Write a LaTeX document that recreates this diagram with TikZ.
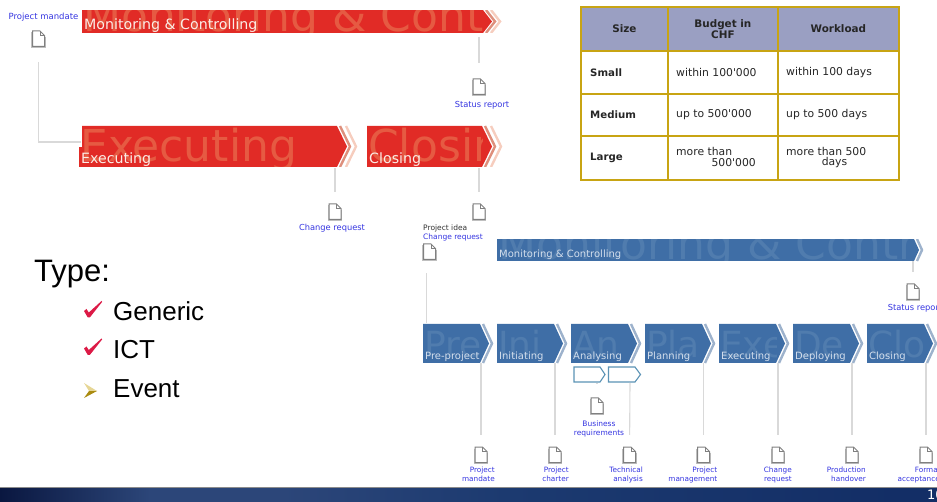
\documentclass[tikz,border=0pt]{standalone}
\usepackage{xcolor}
\usepackage{fontspec}
\usepackage{tikz}
\newfontfamily\verd{DejaVu Sans}
\newfontfamily\arialf{Liberation Sans}
\newcommand{\fsz}[1]{\fontsize{#1}{#1}\selectfont}
\definecolor{redbar}{HTML}{E12B26}
\definecolor{redghost}{HTML}{E65A42}
\definecolor{redchevA}{HTML}{DE8F7C}
\definecolor{redchevB}{HTML}{F6CDBE}
\definecolor{redlabel}{HTML}{FBEDE6}
\definecolor{bluebar}{HTML}{3F6EA6}
\definecolor{blueghost}{HTML}{507CAE}
\definecolor{bluechevA}{HTML}{9DB2CC}
\definecolor{bluechevB}{HTML}{FFFFFF}
\definecolor{bluelabel}{HTML}{D3DEEC}
\definecolor{gold}{HTML}{C8A413}
\definecolor{headfill}{HTML}{9A9FC2}
\definecolor{linkblue}{HTML}{3434E0}
\definecolor{crimson}{HTML}{DC1A46}
\definecolor{arrowteal}{HTML}{5B93B5}
\definecolor{footA}{HTML}{0A1740}
\definecolor{footB}{HTML}{2C4679}
\definecolor{footC}{HTML}{1C3A70}
\definecolor{footD}{HTML}{132E66}
\pgfdeclarehorizontalshading{footshade}{100bp}{
    color(0bp)=(footA); color(25bp)=(footA);
    color(33bp)=(footB); color(40bp)=(footB);
    color(52bp)=(footC); color(73bp)=(footD); color(100bp)=(footD)
}
\tikzset{
    redghosttext/.style={font=\verd\fsz{44}},
    blueghosttext/.style={font=\verd\fsz{36}},
    redlabeltext/.style={font=\verd\fsz{14.2}},
    bluelabeltext/.style={font=\verd\fsz{10}},
    barbox/.style={anchor=north west, inner sep=0pt},
    conn/.style={draw=black!15, line width=1.1pt},
    doclabel/.style={font=\verd\fsz{8.3}, text=linkblue, inner sep=0pt, align=center},
    stepright/.style={font=\verd\fontsize{7.3}{9.2}\selectfont, text=linkblue, inner sep=0pt, align=right, anchor=north east},
    cellbox/.style={draw=gold, line width=1.8pt, anchor=north west, inner sep=0pt},
    celltext/.style={font=\verd\fsz{10.8}, inner sep=0pt, text=black!85},
    headtext/.style={font=\verd\bfseries\fontsize{10.4}{10.6}\selectfont, inner sep=0pt, align=center, text=black!85},
    listtext/.style={font=\arialf\fsz{26}, inner sep=0pt, anchor=base west},
    docicon/.style={minimum width=16pt, minimum height=20pt, inner sep=0pt, path picture={
        \draw[black!25, line width=1.6pt, shift={(path picture bounding box.center)}]
            (-6.5,-6.5) -- (-6.5,8.5) -- (6.5,8.5) -- (6.5,-2);
        \draw[fill=white, draw=black!50, line width=1pt, shift={(path picture bounding box.center)}]
            (-6,-8) -- (1.5,-8) -- (6,-3.5) -- (6,7.5) -- (-6,7.5) -- cycle;
        \draw[draw=black!50, line width=0.6pt, shift={(path picture bounding box.center)}]
            (1.5,-8) -- (1.5,-3.5) -- (6,-3.5);
    }},
    smallarrow/.style={draw=arrowteal, fill=white, line width=1.1pt},
}
\newcommand{\phasebar}[9]{
    \node[barbox, minimum width=#4pt, minimum height=#5pt] (#1) at (#2,#3) {};
    \fill[#6bar] (#2,#3) -- (#2+#4,#3) -- (#2+#4+#7,#3+#5/2) -- (#2+#4,#3+#5) -- (#2,#3+#5) -- cycle;
    \begin{scope}
        \clip (#1.north west) rectangle (#1.south east);
        \node[#6ghosttext, text=#6ghost, anchor=base west, inner sep=0pt] (#1ghost) at (#2+1,#3+#5-5) {#9};
    \end{scope}
    \draw[#6chevB, line width=2.4pt] (#2+#4+#7-1,#3) -- (#2+#4+2*#7-1,#3+#5/2) -- (#2+#4+#7-1,#3+#5);
    \draw[#6chevA, line width=2.4pt] (#2+#4+3,#3) -- (#2+#4+#7+3,#3+#5/2) -- (#2+#4+3,#3+#5);
    \node[#6labeltext, text=#6label, anchor=base west, inner sep=0pt] (#1text) at (#2+2,#3+#5-3) {#8};
}
\begin{document}
\begin{tikzpicture}[x=1pt, y=-1pt]
    \useasboundingbox (0,0) rectangle (937,502);

    \phasebar{redmon}{82}{10}{401}{23}{red}{9}{Monitoring \& Controlling}{\raisebox{-4pt}{Monitoring \& Cont}}
    \phasebar{redexec}{79}{126}{258}{41}{red}{10}{Executing}{Executing}
    \phasebar{redclose}{367}{126}{115}{41}{red}{10}{Closing}{Closing}
    \fill[white] (78,125) rectangle (82,147);
    \fill[white] (78,0) rectangle (500,10);
    \fill[white] (78,33) rectangle (500,44);
    \fill[white] (78,167.5) rectangle (500,176);

    \node[docicon] (mandatedoc) at (38.5,39) {};
    \node[docicon] (statusdoc) at (479,87) {};
    \node[docicon] (changedoc) at (335,212) {};
    \node[docicon] (closedoc) at (479,212) {};
    \node[doclabel, font=\verd\fsz{8.5}] (mandatetext) at (43.5,17) {Project mandate};
    \node[doclabel] (statustext) at (482,105) {Status report};
    \node[doclabel] (changetext) at (332,228) {Change request};
    \node[doclabel, font=\verd\fsz{7.5}, anchor=west, text=black!80] (ideatext) at (423,228) {Project idea};
    \node[doclabel, font=\verd\fsz{7.5}, anchor=west] (ideachange) at (423,237) {Change request};

    \draw[conn, shorten <=13pt] (mandatedoc.south) |- ([xshift=2pt]redexec.west |- 0,142);
    \draw[conn, shorten >=14pt] (redmon.south -| statusdoc) ++(0,4) -- (statusdoc);
    \draw[conn, shorten <=1pt, shorten >=10pt] (redexec.south -| changedoc) -- (changedoc);
    \draw[conn, shorten <=1pt, shorten >=10pt] (redclose.south -| closedoc) -- (closedoc);

    \foreach \c/\xa/\w in {0/580/87, 1/667/110, 2/777/121} {
        \foreach \r/\ya/\h/\cellfill in {0/6/44/headfill, 1/50/43/white, 2/93/42/white, 3/135/44/white} {
            \node[cellbox, minimum width=\w pt, minimum height=\h pt, fill=\cellfill] (c\c\r) at (\xa,\ya) {};
        }
    }
    \node[headtext] (h0) at (c00) {Size};
    \node[headtext] (h1) at (c10) {Budget in\\CHF};
    \node[headtext] (h2) at (c20) {Workload};
    \foreach \r/\txt in {1/Small, 2/Medium, 3/Large} {
        \node[celltext, font=\verd\bfseries\fsz{10.2}, anchor=west] (s\r) at ([xshift=10pt]c0\r.west) {\txt};
    }
    \node[celltext, anchor=west] (b1) at ([xshift=9pt]c11.west) {within 100'000};
    \node[celltext, anchor=west] (w1) at ([xshift=9pt]c21.west) {within 100 days};
    \node[celltext, anchor=west] (b2) at ([xshift=9pt]c12.west) {up to 500'000};
    \node[celltext, anchor=west] (w2) at ([xshift=9pt]c22.west) {up to 500 days};
    \node[celltext, anchor=west] (b3) at (676,151) {more than};
    \node[celltext, anchor=east] (b3b) at (756,163) {500'000};
    \node[celltext, anchor=west] (w3) at (786,151) {more than 500};
    \node[celltext] (w3b) at (834.5,163) {days};

    \node[listtext, font=\arialf\fsz{31}] (typetext) at (34,282) {Type:};
    \node[listtext] (generic) at (113,321) {Generic};
    \node[listtext] (ict) at (113,359) {ICT};
    \node[listtext] (event) at (113,398) {Event};
    \foreach \y in {0, 37.5} {
        \fill[crimson, yshift=-\y pt] (84,311) -- (86.5,309) -- (88.8,312.5) -- (101.5,301) -- (102.2,301.8) -- (89.8,317.5) -- (87.8,317.5) -- cycle;
    }
    \fill[gold!85!black] (84,398) -- (97,391) -- (89,391) -- cycle;
    \fill[gold!45] (84,383) -- (97,391) -- (89,391) -- cycle;

    \phasebar{bluemon}{497}{239}{417}{22}{blue}{5}{Monitoring \& Controlling}{\fsz{44}\raisebox{-4pt}{Monitoring \& Contro}}
    \fill[white] (490,222) rectangle (937,239);
    \fill[white] (490,261) rectangle (905,272);
    \foreach \i/\x/\txt/\part in {0/423/Pre-project/Pre, 1/497/Initiating/Ini, 2/571/Analysing/An, 3/645/Planning/Pla, 4/719/Executing/Exe, 5/793/Deploying/De, 6/867/Closing/Clo} {
        \phasebar{p\i}{\x}{324}{57}{39}{blue}{9}{\txt}{\part}
    }

    \draw[smallarrow] (574,367) -- (600,367) -- (605,374.5) -- (600,382) -- (574,382) -- cycle;
    \draw[smallarrow] (608.5,367) -- (635,367) -- (640.5,374.5) -- (635,382) -- (608.5,382) -- cycle;
    \coordinate (arrowa) at (597,383);
    \coordinate (arrowb) at (630,383);

    \node[docicon] (ideadoc) at (429.5,252) {};
    \node[docicon] (bluestatus) at (913,292) {};
    \node[docicon] (reqdoc) at (597,406) {};
    \node[doclabel, font=\verd\fontsize{7.5}{9}\selectfont] (reqtext) at (599,428.5) {Business\\requirements};
    \node[doclabel] (bluestatustext) at (915,308) {Status report};
    \draw[conn, shorten <=11pt, shorten >=1pt] ([xshift=-3pt]ideadoc.south) -- ([xshift=-3pt]ideadoc.south |- p0.north);
    \draw[conn, shorten >=10pt] (bluemon.south -| bluestatus) -- (bluestatus);
    \draw[conn, shorten >=12pt] (arrowa) -- (reqdoc);

    \foreach \i/\x/\txta/\txtb in {0/481/Project/mandate, 1/555/Project/charter, 3/703.5/Project/management, 4/778/Change/request, 5/852/Production/handover, 6/926/Formal/acceptance} {
        \node[docicon] (d\i) at (\x,455) {};
        \node[stepright] (t\i) at (\x+14,467) {\txta\\\txtb};
        \draw[conn, shorten >=10pt] (p\i.south -| d\i) -- (d\i);
    }
    \node[docicon] (d2) at (629.5,455) {};
    \node[stepright] (t2) at (643,467) {Technical\\analysis};
    \draw[conn, shorten >=10pt] (arrowb) -- (d2);

    \shade[shading=footshade] (0,487) rectangle (937,502);
    \draw[black!45, line width=0.6pt] (0,487) -- (937,487);
    \node[font=\verd\fsz{13}, text=white, anchor=west, inner sep=0pt] (pagenum) at (927,495) {10};
\end{tikzpicture}
\end{document}
